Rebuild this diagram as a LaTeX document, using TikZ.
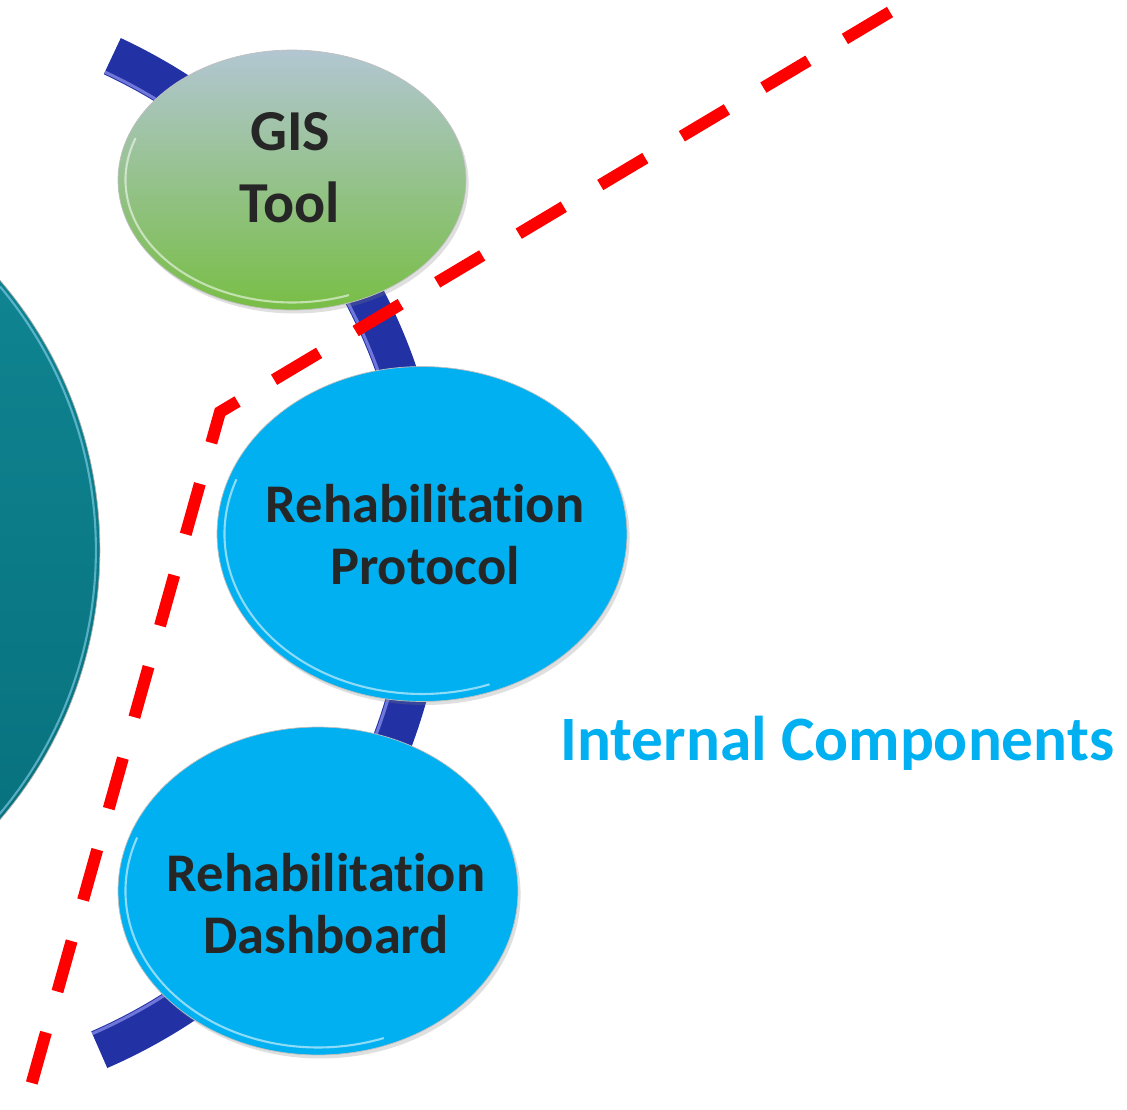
\documentclass[tikz,border=0pt]{standalone}
\usepackage{fontspec}
\setmainfont{Carlito}[Ligatures=NoCommon]
\usepackage{xcolor}
\usepackage{tikz}
\usetikzlibrary{shapes.geometric}
\usetikzlibrary{shadows}
\definecolor{tealtop}{HTML}{118895}
\definecolor{tealbot}{HTML}{066E7A}
\definecolor{bandblue}{HTML}{2232A4}
\definecolor{gistop}{HTML}{B2C6D2}
\definecolor{gisbot}{HTML}{78BE45}
\definecolor{bubblecyan}{HTML}{00B0F0}
\definecolor{txtgray}{HTML}{262626}
\definecolor{dashred}{HTML}{FF0000}
\tikzset{
    bubble/.style={
           ellipse,
           draw=black!25, thin,
           inner sep=0pt,
           drop shadow={shadow xshift=1.5pt, shadow yshift=-2pt, opacity=0.25},
           },
    caption/.style={
           text=txtgray,
           inner sep=0pt,
           text centered,
           },
    heading/.style={
           text=bubblecyan,
           font=\bfseries\fontsize{36}{43}\selectfont,
           inner sep=0pt,
           },
    band/.style={
           draw=bandblue,
           line width=0.8cm,
           },
    bandlight/.style={
           draw=blue!35!white, opacity=0.6,
           line width=0.06cm,
           },
    rim/.style={
           draw=white, opacity=0.55,
           line width=1.2pt,
           },
    redline/.style={
           draw=dashred,
           line width=0.24cm,
           dash pattern=on 1.05cm off 0.85cm,
           },
}

\begin{document}
\begin{tikzpicture}[x=0.02cm, y=-0.02cm]
	\useasboundingbox (0,0) rectangle (1127,1110);
	\clip (0,0) rectangle (1127,1110);
	
	% big circle, cut by the left edge
	\path[top color=tealtop, bottom color=tealbot, draw=black!30] (-314,550) circle[radius=8.28cm];
	\draw[rim, draw=cyan!40!white] (-314,550) ++(-45:8.2cm) arc[start angle=-45, end angle=40, radius=8.2cm];
	
	% blue band behind the bubbles
	\draw[band] (-118,550) ++(65:10.9cm) arc[start angle=65, end angle=-66.5, radius=10.9cm];
	\draw[bandlight] (-118,550) ++(65:10.55cm) arc[start angle=65, end angle=-66.5, radius=10.55cm];
	
	\node[bubble, top color=gistop, bottom color=gisbot, minimum width=6.96cm, minimum height=5.2cm] (gis) at (292,180) {};
	\node[bubble, fill=bubblecyan, minimum width=8.2cm, minimum height=6.7cm] (proto) at (422,534) {};
	\node[bubble, fill=bubblecyan, minimum width=8cm, minimum height=6.56cm] (dboard) at (318,891) {};
	
	\draw[rim] (gis.center) ++(160:3.33cm and 2.45cm) arc[start angle=160, end angle=290, x radius=3.33cm, y radius=2.45cm];
	\draw[rim] (proto.center) ++(160:3.95cm and 3.2cm) arc[start angle=160, end angle=290, x radius=3.95cm, y radius=3.2cm];
	\draw[rim] (dboard.center) ++(160:3.85cm and 3.13cm) arc[start angle=160, end angle=290, x radius=3.85cm, y radius=3.13cm];
	
	\node[caption, font=\bfseries\fontsize{33}{41}\selectfont] (gistext) at (290,172) {
		\begin{tabular}{c}
		GIS\\
		Tool
		\end{tabular}
	};
	\node[caption, font=\bfseries\fontsize{31}{35}\selectfont] (prototext) at (425,541) {
		\begin{tabular}{c}
		Rehabilitation\\
		Protocol
		\end{tabular}
	};
	\node[caption, font=\bfseries\fontsize{31}{35}\selectfont] (dboardtext) at (326,910) {
		\begin{tabular}{c}
		Rehabilitation\\
		Dashboard
		\end{tabular}
	};
	
	\node[heading, anchor=base west] (internal) at (560,760) {Internal Components};
	
	% red dashed border
	\draw[redline] (890,12) -- (220,412) -- (20,1125);

\end{tikzpicture}
\end{document}
